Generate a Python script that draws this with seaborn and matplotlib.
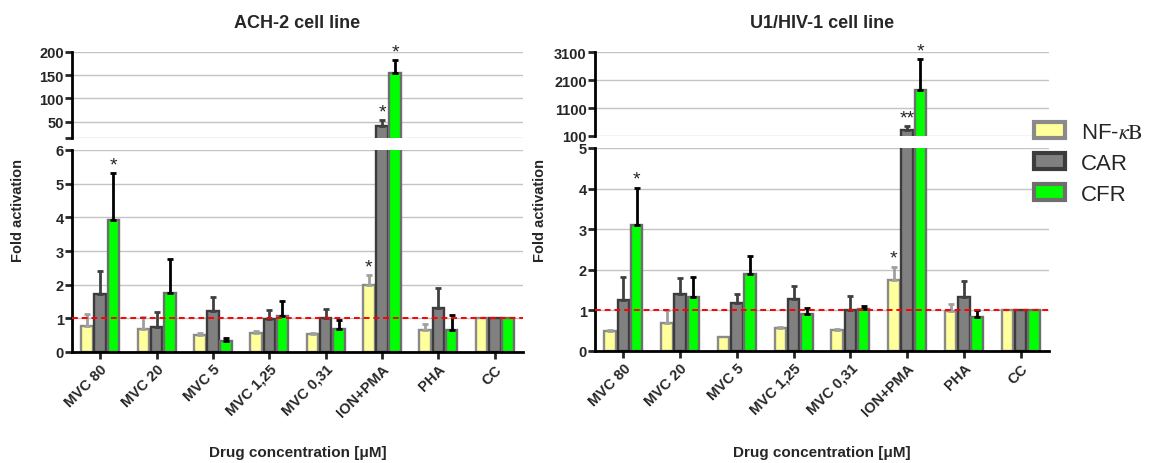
import numpy as np
import pandas as pd
import matplotlib
matplotlib.use("Agg")
import matplotlib.pyplot as plt
from matplotlib.patches import Patch
import seaborn as sns

# ---------------- data ----------------
categories = ["MVC 80", "MVC 20", "MVC 5", "MVC 1,25", "MVC 0,31", "ION+PMA", "PHA", "CC"]
series = ["NF-κB", "CAR", "CFR"]

# ACH-2 cell line (mean, upper SEM)
ach2_nfkb = [0.77, 0.67, 0.50, 0.57, 0.54, 1.98, 0.64, 1.00]
ach2_nfkb_err = [0.35, 0.37, 0.07, 0.04, 0.01, 0.30, 0.18, 0.0]
ach2_car = [1.73, 0.73, 1.23, 0.97, 1.01, 40.6, 1.32, 1.00]
ach2_car_err = [0.68, 0.46, 0.40, 0.28, 0.26, 12.2, 0.59, 0.0]
ach2_cfr = [3.91, 1.74, 0.34, 1.06, 0.67, 155.7, 0.65, 1.00]
ach2_cfr_err = [1.40, 1.01, 0.08, 0.45, 0.28, 26.3, 0.45, 0.0]

# U1/HIV-1 cell line
u1_nfkb = [0.49, 0.68, 0.34, 0.56, 0.52, 1.75, 0.98, 1.00]
u1_nfkb_err = [0.02, 0.34, 0.0, 0.03, 0.02, 0.33, 0.18, 0.0]
u1_car = [1.25, 1.40, 1.19, 1.27, 1.02, 300, 1.33, 1.00]
u1_car_err = [0.57, 0.40, 0.21, 0.32, 0.33, 143, 0.40, 0.0]
u1_cfr = [3.10, 1.34, 1.89, 0.92, 1.04, 1760, 0.84, 1.00]
u1_cfr_err = [0.92, 0.49, 0.45, 0.15, 0.08, 1075, 0.18, 0.0]

# significance marks: (category index, series, text)
ach2_stars = [(0, "CFR", "*"), (5, "NF-κB", "*"), (5, "CAR", "*"), (5, "CFR", "*")]
u1_stars = [(0, "CFR", "*"), (5, "NF-κB", "*"), (5, "CAR", "**"), (5, "CFR", "*")]

titles = ["ACH-2 cell line", "U1/HIV-1 cell line"]

# ---------------- style ----------------
sns.set_style("white")
plt.rcParams["font.family"] = ["Liberation Sans", "DejaVu Sans"]
plt.rcParams["mathtext.fontset"] = "stix"

face = {"NF-κB": "#ffff9c", "CAR": "#808080", "CFR": "#00ff00"}
edge = {"NF-κB": "#8a8a8a", "CAR": "#3c3c3c", "CFR": "#6e6e6e"}
errc = {"NF-κB": "#a0a0a0", "CAR": "#404040", "CFR": "#000000"}

W, H = 1151, 464
fig = plt.figure(figsize=(W / 100, H / 100), dpi=100)


def frac_box(x0, x1, ytop, ybot):
    return [x0 / W, 1 - ybot / H, (x1 - x0) / W, (ybot - ytop) / H]


panels = [
    dict(vals=[ach2_nfkb, ach2_car, ach2_cfr], errs=[ach2_nfkb_err, ach2_car_err, ach2_cfr_err],
         stars=ach2_stars, x0=72, x1=523, top=(53, 139), bot=(151, 353),
         low=(0, 6), lowticks=[0, 1, 2, 3, 4, 5, 6],
         high=(15, 200), highticks=[15, 50, 100, 150, 200], highlabels=["", "50", "100", "150", "200"],
         ylab_x=18),
    dict(vals=[u1_nfkb, u1_car, u1_cfr], errs=[u1_nfkb_err, u1_car_err, u1_cfr_err],
         stars=u1_stars, x0=595, x1=1049, top=(53, 137), bot=(149, 352),
         low=(0, 5), lowticks=[0, 1, 2, 3, 4, 5],
         high=(100, 3100), highticks=[100, 1100, 2100, 3100], highlabels=["100", "1100", "2100", "3100"],
         ylab_x=540),
]

tickfont = dict(fontsize=10.5, fontweight="bold")

for pi, p in enumerate(panels):
    rows = []
    for s, v, e in zip(series, p["vals"], p["errs"]):
        for c, vi, ei in zip(categories, v, e):
            rows.append(dict(cat=c, series=s, value=vi, err=ei))
    df = pd.DataFrame(rows)

    ax_top = fig.add_axes(frac_box(p["x0"], p["x1"], p["top"][0], p["top"][1]))
    ax_bot = fig.add_axes(frac_box(p["x0"], p["x1"], p["bot"][0], p["bot"][1]))

    for ax in (ax_top, ax_bot):
        sns.barplot(data=df, x="cat", y="value", hue="series", order=categories,
                    hue_order=series, palette=face, saturation=1, width=0.7, gap=0.12,
                    errorbar=None, legend=False, ax=ax, zorder=2)
        for s, cont in zip(series, ax.containers):
            for bar in cont:
                bar.set_edgecolor(edge[s])
                bar.set_linewidth(1.7)
            xs = [b.get_x() + b.get_width() / 2 for b in cont]
            sub = df[df.series == s].set_index("cat").loc[categories]
            errs = sub["err"].values
            mask = errs > 0
            ax.errorbar(np.array(xs)[mask], sub["value"].values[mask],
                        yerr=[np.zeros(mask.sum()), errs[mask]],
                        fmt="none", ecolor=errc[s], elinewidth=2, capsize=2.5,
                        capthick=2, zorder=3)
        ax.set_xlim(-0.5, len(categories) - 0.5)
        ax.set_axisbelow(True)
        ax.yaxis.grid(True, color="#c4c4c4", linewidth=1)
        ax.xaxis.grid(False)
        for sp in ("top", "right"):
            ax.spines[sp].set_visible(False)
        ax.spines["left"].set_linewidth(2)
        ax.spines["left"].set_color("black")
        ax.set_xlabel("")
        ax.set_ylabel("")
        ax.tick_params(axis="y", direction="out", length=5, width=2, left=True,
                       labelsize=10.5, pad=1)

    # top axis
    ax_top.set_ylim(*p["high"])
    ax_top.set_yticks(p["highticks"])
    ax_top.set_yticklabels(p["highlabels"], **tickfont)
    ax_top.spines["bottom"].set_visible(False)
    ax_top.tick_params(axis="x", bottom=False, labelbottom=False)

    # bottom axis
    ax_bot.set_ylim(*p["low"])
    ax_bot.set_yticks(p["lowticks"])
    ax_bot.set_yticklabels([str(t) for t in p["lowticks"]], **tickfont)
    ax_bot.spines["bottom"].set_linewidth(2)
    ax_bot.spines["bottom"].set_color("black")
    ax_bot.tick_params(axis="x", direction="out", length=5, width=2, bottom=True, pad=2)
    ax_bot.set_xticks(range(len(categories)))
    ax_bot.set_xticklabels(categories, rotation=45, ha="right", rotation_mode="anchor",
                           **tickfont)
    ax_bot.axhline(1, color="#ff0000", linestyle=(0, (3, 2)), linewidth=1.4, zorder=5)

    # significance stars
    for ci, s, txt in p["stars"]:
        si = series.index(s)
        ax_ref = ax_bot
        val = p["vals"][si][ci]
        top_val = val + p["errs"][si][ci]
        if top_val > p["low"][1]:
            ax_ref = ax_top
        bar = ax_ref.containers[si][ci]
        xc = bar.get_x() + bar.get_width() / 2
        ax_ref.annotate(txt, xy=(xc, top_val), xytext=(0, 0), textcoords="offset points",
                        ha="center", va="bottom", fontsize=14, annotation_clip=False)

    # title, labels
    cx = (p["x0"] + p["x1"]) / 2 / W
    fig.text(cx, 1 - 24 / H, titles[pi], ha="center", va="center", fontsize=13,
             fontweight="bold")
    fig.text(cx, 1 - 453 / H, "Drug concentration [μM]", ha="center", va="center",
             fontsize=11, fontweight="bold")
    fig.text(p["ylab_x"] / W, 1 - 210 / H, "Fold activation", ha="center", va="center",
             rotation=90, fontsize=10.5, fontweight="bold")

# legend
handles = [Patch(facecolor=face[s], edgecolor=edge[s], linewidth=3, joinstyle="round")
           for s in series]
labels = [r"NF-$\kappa\mathrm{B}$", "CAR", "CFR"]
fig.legend(handles, labels, loc="upper left", bbox_to_anchor=(1034 / W, 1 - 123 / H),
           frameon=False, fontsize=16, handlelength=1.4, handleheight=0.7,
           handletextpad=0.7, labelspacing=0.45, borderpad=0, borderaxespad=0)

fig.savefig("out.png", dpi=100)
